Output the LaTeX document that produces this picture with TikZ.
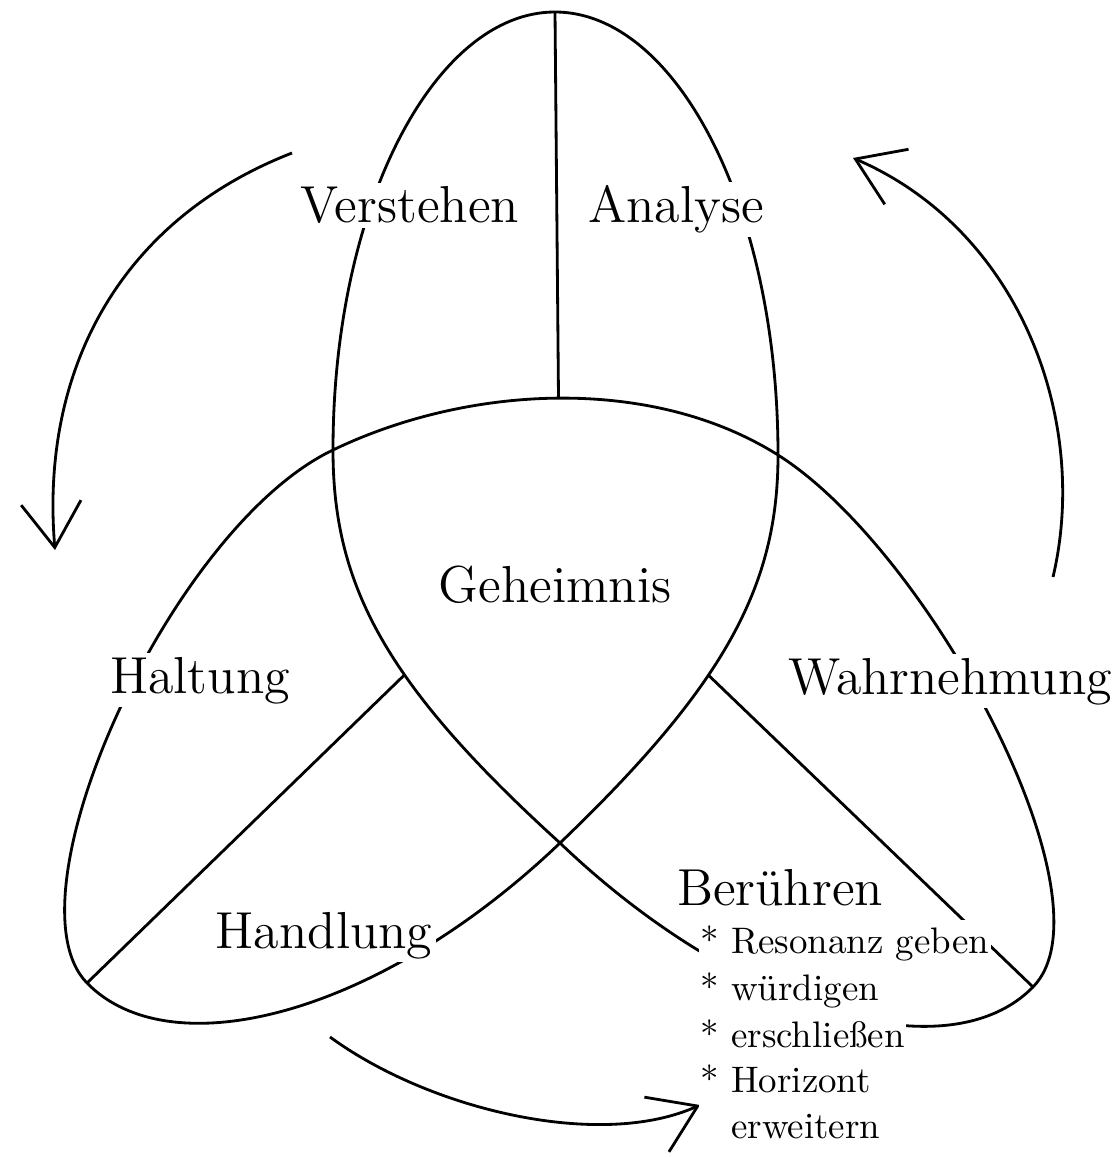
\documentclass[tikz,border=0pt]{standalone}
\usepackage{tikz}
\usetikzlibrary{arrows.meta}

\begin{document}
\begin{tikzpicture}[
  x=0.1mm, y=-0.1mm,
  knot/.style={line width=0.8pt, line join=round},
  divider/.style={line width=0.8pt},
  lobetext/.style={fill=white, inner sep=1pt, anchor=base, font=\fontsize{14.8}{17}\selectfont},
  itemtext/.style={fill=white, inner xsep=0.5pt, inner ysep=1.5pt, text height=8pt, text depth=2.5pt, anchor=base west, font=\fontsize{10.5}{12}\selectfont},
  cyclearrow/.style={-{Straight Barb[length=4.5mm, width=6mm]}, line width=0.8pt},
]
\useasboundingbox (0,0) rectangle (1120,1157);

% Knot (one closed line, three lobes)
\draw[knot] (555,12) coordinate (top)
  .. controls (675,12) and (778,205) .. (778,455) coordinate (x1)
  .. controls (778,585) and (726,684) .. (560,843) coordinate[pos=0.6] (jr) coordinate (x3)
  .. controls (380,1015) and (171,1069) .. (87,983) coordinate (cl)
  .. controls (3,897) and (171,527) .. (333,450) coordinate (x2)
  .. controls (468,385) and (651,375) .. (778,455) coordinate[pos=0.5] (ctop)
  .. controls (930,551) and (1117,901) .. (1033,987) coordinate (cr)
  .. controls (949,1073) and (740,1015) .. (560,843)
  .. controls (385,684) and (333,585) .. (333,450) coordinate[pos=0.4] (jl)
  .. controls (333,205) and (435,12) .. (top) -- cycle;

% Dividers
\draw[divider] (top) -- (ctop);
\draw[divider] (jl) -- (cl);
\draw[divider] (jr) -- (cr);

% Cycle arrows
\coordinate (a1s) at (292,153);
\coordinate (a1e) at (55,550);
\coordinate (a2s) at (330,1037);
\coordinate (a2e) at (700,1105);
\coordinate (a3s) at (1053,577);
\coordinate (a3e) at (853,158);
\draw[cyclearrow] (a1s) .. controls (120,220) and (40,370) .. (a1e);
\draw[cyclearrow] (a2s) .. controls (430,1110) and (600,1150) .. (a2e);
\draw[cyclearrow] (a3s) .. controls (1090,420) and (1020,230) .. (a3e);

% Labels
\node[lobetext] (verstehen) at (410,223) {Verstehen};
\node[lobetext] (analyse) at (676,223) {Analyse};
\node[lobetext] (geheimnis) at (555,602) {Geheimnis};
\node[lobetext] (haltung) at (200,693) {Haltung};
\node[lobetext] (wahrnehmung) at (950,694) {Wahrnehmung};
\node[lobetext] (handlung) at (324,948) {Handlung};
\node[lobetext] (beruehren) at (780,905) {Berühren};

% List
\node[itemtext] (i1) at (698,953) {* Resonanz geben};
\node[itemtext] (i2) at (698,1000) {* würdigen};
\node[itemtext] (i3) at (698,1047) {* erschließen};
\node[itemtext] (i4) at (698,1092) {* Horizont};
\node[itemtext] (i5) at (698,1138) {\phantom{*} erweitern};
\end{tikzpicture}
\end{document}
